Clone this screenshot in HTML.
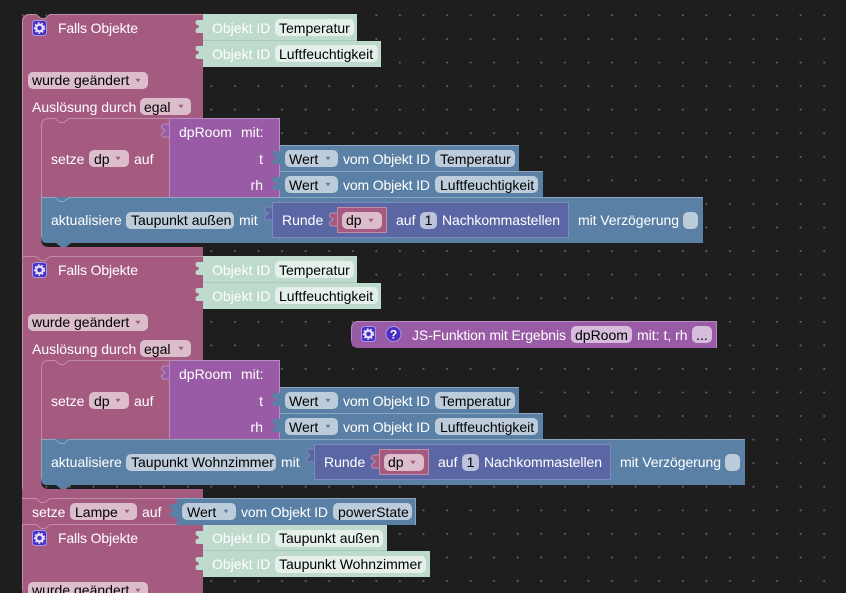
<!DOCTYPE html>
<html><head><meta charset="utf-8"><style>
html,body{margin:0;padding:0;background:#1e1e1e;width:846px;height:593px;overflow:hidden}
svg{display:block}
text{font-family:"Liberation Sans",Arial,sans-serif;font-size:14px;fill:#fff}
text.f{fill:#000}
.pk{fill:#a55b80}.bl{fill:#5b80a5}.mt{fill:#bedacd}.pu{fill:#995ba5}.in{fill:#5b67a5}
.ppk{fill:#dbbdcc}.pbl{fill:#bdccdb}.pmt{fill:#e5f0eb}.ppu{fill:#d6bddb}.pin{fill:#bdc2db}
.spk{stroke:#c08ca6;stroke-width:1;fill:none}.sbl{stroke:#8ca6c0;stroke-width:1;fill:none}
.smt{stroke:#a8c9ba;stroke-width:1;fill:none}.spu{stroke:#b88cc0;stroke-width:1;fill:none}.sin{stroke:#7f89bc;stroke-width:1;fill:none}
</style></head><body>
<svg width="846" height="593" viewBox="0 0 846 593" xmlns="http://www.w3.org/2000/svg">
<defs>
<pattern id="g" x="22" y="14.5" width="23.57" height="23.57" patternUnits="userSpaceOnUse"><circle cx="0.8" cy="0.8" r="1" fill="#666"/><circle cx="24.37" cy="0.8" r="1" fill="#666"/></pattern>
<path id="tab" d="M0.5,1 H-5 C-7,1 -7.5,2 -7.5,4 C-7.5,6 -4,6 -4,7.5 C-4,9 -7.5,9 -7.5,11 C-7.5,13 -7,14 -5,14 H0.5 z"/>
<path id="car" d="M-2.6,-1.8 L2.6,-1.8 L0,1.8 z"/>
<g id="ic"><rect x="0.5" y="0.5" width="14" height="15" rx="3" fill="#4a2fc4" stroke="#a596e6"/><circle cx="7.5" cy="8" r="3.4" fill="none" stroke="#e8e4fa" stroke-width="2.2"/><circle cx="7.5" cy="8" r="5" fill="none" stroke="#e8e4fa" stroke-width="1.4" stroke-dasharray="1.8 1.8"/></g>
</defs>
<rect width="846" height="593" fill="#1e1e1e"/>
<rect width="846" height="593" fill="url(#g)"/>

<!-- pink spine -->
<path class="pk" d="M30,14 H36 l5,4 h4 l5,-4 H203 V118 H41 V239 Q41,247 49,247 H203 V256 V489 H203 V498 V593 H22 V22 Q22,14 30,14 z M41,360 V481 Q41,489 49,489 H203 V360 z" fill-rule="evenodd"/>
<rect class="pk" x="38" y="116" width="135" height="14"/>
<rect class="pk" x="38" y="358" width="135" height="14"/>
<path class="spk" d="M22.5,590 V22 Q22.5,14.5 30,14.5 H36 l5,4 h4 l5,-4 H203"/>
<path class="spk" d="M22,256.5 H36 l5,4 h4 l5,-4 H203"/>

<!-- Block 1 mint -->
<use href="#tab" class="mt" x="203" y="19"/><use href="#tab" class="mt" x="203" y="45"/>
<rect class="mt" x="203" y="14" width="154" height="27"/><rect class="mt" x="203" y="41" width="178" height="26"/>
<path class="smt" d="M203,40.5 H357"/>
<use href="#ic" x="32" y="20"/><text x="58" y="33" textLength="80">Falls Objekte</text>
<text x="212" y="33">Objekt ID</text><rect class="pmt" x="275" y="19" width="79" height="17" rx="5"/><text class="f" x="279" y="33">Temperatur</text>
<text x="212" y="59">Objekt ID</text><rect class="pmt" x="275" y="45" width="103" height="17" rx="5"/><text class="f" x="279" y="59">Luftfeuchtigkeit</text>
<rect class="ppk" x="28" y="72" width="120" height="17" rx="5"/><text class="f" x="32" y="85">wurde geändert</text><use href="#car" class="pk" x="138" y="80.5"/>
<text x="32" y="112">Auslösung durch</text><rect class="ppk" x="140" y="98" width="51" height="17" rx="5"/><text class="f" x="144" y="112">egal</text><use href="#car" class="pk" x="181" y="106.5"/>

<!-- setze dp -->
<path class="pk" d="M49,118 H55 l5,4 h4 l5,-4 H170 V197 H41 V126 Q41,118 49,118 z"/>
<path class="spk" d="M41.5,197 V126 Q41.5,118.5 49,118.5 H55 l5,4 h4 l5,-4 H170"/>
<text x="51" y="164">setze</text><rect class="ppk" x="89" y="150" width="40" height="17" rx="5"/><text class="f" x="94" y="164">dp</text><use href="#car" class="pk" x="118" y="158.5"/><text x="134" y="164">auf</text>
<rect class="bl" x="280" y="145" width="239" height="26"/><rect class="bl" x="280" y="171" width="263" height="26"/>
<path class="sbl" d="M280,145.5 H519 M280,171.5 H543"/>
<use href="#tab" class="pu" x="169" y="123" stroke="#b88cc0"/>
<rect class="pu" x="169" y="118" width="111" height="79"/>
<path class="spu" d="M169.5,197 V118.5 H279.5 V197"/>
<text x="179" y="137">dpRoom</text><text x="241" y="137">mit:</text>
<text x="263" y="164" text-anchor="end">t</text><text x="263" y="190" text-anchor="end">rh</text>
<use href="#tab" class="bl" x="280" y="150"/><use href="#tab" class="bl" x="280" y="176"/>
<rect class="pbl" x="285" y="150" width="53" height="17" rx="5"/><text class="f" x="289" y="164">Wert</text><use href="#car" class="bl" x="328" y="158.5"/>
<text x="343" y="164" textLength="87">vom Objekt ID</text><rect class="pbl" x="435" y="150" width="80" height="17" rx="5"/><text class="f" x="440" y="164">Temperatur</text>
<rect class="pbl" x="285" y="176" width="53" height="17" rx="5"/><text class="f" x="289" y="190">Wert</text><use href="#car" class="bl" x="328" y="184.5"/>
<text x="343" y="190" textLength="87">vom Objekt ID</text><rect class="pbl" x="435" y="176" width="103" height="17" rx="5"/><text class="f" x="440" y="190">Luftfeuchtigkeit</text>

<!-- aktualisiere 1 -->
<path class="bl" d="M41,197 H703 V243 H71 l-5,4 h-5 l-5,-4 H47 Q41,243 41,237 z"/>
<path class="sbl" d="M41.5,237 V197.5 H55 l5,4 h4 l5,-4 H703"/>
<text x="51" y="225">aktualisiere</text><rect class="pbl" x="126" y="212" width="108" height="17" rx="5"/><text class="f" x="131" y="225">Taupunkt außen</text><text x="239" y="225">mit</text>
<use href="#tab" class="in" x="272" y="206" stroke="#7f89bc"/>
<rect class="in" x="272" y="202" width="297" height="36"/>
<rect class="sin" x="272.5" y="202.5" width="296" height="35"/>
<text x="282" y="225">Runde</text>
<use href="#tab" class="pk" x="337" y="212" stroke="#c08ca6"/>
<rect class="pk" x="337" y="207" width="50" height="26"/><rect class="spk" x="337.5" y="207.5" width="49" height="25"/>
<rect class="ppk" x="342" y="212" width="40" height="17" rx="5"/><text class="f" x="346" y="225">dp</text><use href="#car" class="pk" x="371" y="220.5"/>
<text x="396" y="225">auf</text><rect class="pin" x="420" y="212" width="17" height="17" rx="5"/><text class="f" x="424.6" y="225">1</text><text x="442" y="225" textLength="118">Nachkommastellen</text>
<text x="578" y="225" textLength="101">mit Verzögerung</text><rect class="pbl" x="683" y="212" width="15" height="17" rx="5"/>

<!-- Block 2 mint -->
<use href="#tab" class="mt" x="203" y="261"/><use href="#tab" class="mt" x="203" y="287"/>
<rect class="mt" x="203" y="256" width="154" height="27"/><rect class="mt" x="203" y="283" width="178" height="26"/>
<path class="smt" d="M203,282.5 H357"/>
<use href="#ic" x="32" y="262"/><text x="58" y="275" textLength="80">Falls Objekte</text>
<text x="212" y="275">Objekt ID</text><rect class="pmt" x="275" y="261" width="79" height="17" rx="5"/><text class="f" x="279" y="275">Temperatur</text>
<text x="212" y="301">Objekt ID</text><rect class="pmt" x="275" y="287" width="103" height="17" rx="5"/><text class="f" x="279" y="301">Luftfeuchtigkeit</text>
<rect class="ppk" x="28" y="314" width="120" height="17" rx="5"/><text class="f" x="32" y="327">wurde geändert</text><use href="#car" class="pk" x="138" y="322.5"/>
<text x="32" y="354">Auslösung durch</text><rect class="ppk" x="140" y="340" width="51" height="17" rx="5"/><text class="f" x="144" y="354">egal</text><use href="#car" class="pk" x="181" y="348.5"/>

<!-- setze dp 2 -->
<path class="pk" d="M49,360 H55 l5,4 h4 l5,-4 H170 V439 H41 V368 Q41,360 49,360 z"/>
<path class="spk" d="M41.5,439 V368 Q41.5,360.5 49,360.5 H55 l5,4 h4 l5,-4 H170"/>
<text x="51" y="406">setze</text><rect class="ppk" x="89" y="392" width="40" height="17" rx="5"/><text class="f" x="94" y="406">dp</text><use href="#car" class="pk" x="118" y="400.5"/><text x="134" y="406">auf</text>
<rect class="bl" x="280" y="387" width="239" height="26"/><rect class="bl" x="280" y="413" width="263" height="26"/>
<path class="sbl" d="M280,387.5 H519 M280,413.5 H543"/>
<use href="#tab" class="pu" x="169" y="365" stroke="#b88cc0"/>
<rect class="pu" x="169" y="360" width="111" height="79"/>
<path class="spu" d="M169.5,439 V360.5 H279.5 V439"/>
<text x="179" y="379">dpRoom</text><text x="241" y="379">mit:</text>
<text x="263" y="406" text-anchor="end">t</text><text x="263" y="432" text-anchor="end">rh</text>
<use href="#tab" class="bl" x="280" y="392"/><use href="#tab" class="bl" x="280" y="418"/>
<rect class="pbl" x="285" y="392" width="53" height="17" rx="5"/><text class="f" x="289" y="406">Wert</text><use href="#car" class="bl" x="328" y="400.5"/>
<text x="343" y="406" textLength="87">vom Objekt ID</text><rect class="pbl" x="435" y="392" width="80" height="17" rx="5"/><text class="f" x="440" y="406">Temperatur</text>
<rect class="pbl" x="285" y="418" width="53" height="17" rx="5"/><text class="f" x="289" y="432">Wert</text><use href="#car" class="bl" x="328" y="426.5"/>
<text x="343" y="432" textLength="87">vom Objekt ID</text><rect class="pbl" x="435" y="418" width="103" height="17" rx="5"/><text class="f" x="440" y="432">Luftfeuchtigkeit</text>

<!-- aktualisiere 2 -->
<path class="bl" d="M41,439 H745 V485 H71 l-5,4 h-5 l-5,-4 H47 Q41,485 41,479 z"/>
<path class="sbl" d="M41.5,479 V439.5 H55 l5,4 h4 l5,-4 H745"/>
<text x="51" y="467">aktualisiere</text><rect class="pbl" x="126" y="454" width="150" height="17" rx="5"/><text class="f" x="131" y="467">Taupunkt Wohnzimmer</text><text x="281" y="467">mit</text>
<use href="#tab" class="in" x="314" y="448" stroke="#7f89bc"/>
<rect class="in" x="314" y="444" width="297" height="36"/>
<rect class="sin" x="314.5" y="444.5" width="296" height="35"/>
<text x="324" y="467">Runde</text>
<use href="#tab" class="pk" x="379" y="454" stroke="#c08ca6"/>
<rect class="pk" x="379" y="449" width="50" height="26"/><rect class="spk" x="379.5" y="449.5" width="49" height="25"/>
<rect class="ppk" x="384" y="454" width="40" height="17" rx="5"/><text class="f" x="388" y="467">dp</text><use href="#car" class="pk" x="413" y="462.5"/>
<text x="438" y="467">auf</text><rect class="pin" x="462" y="454" width="17" height="17" rx="5"/><text class="f" x="466.6" y="467">1</text><text x="484" y="467" textLength="118">Nachkommastellen</text>
<text x="620" y="467" textLength="101">mit Verzögerung</text><rect class="pbl" x="725" y="454" width="15" height="17" rx="5"/>

<!-- setze Lampe -->
<path class="pk" d="M22,489 H203 V498 H177 V524 H22 z"/>
<path class="spk" d="M22,498.5 H36 l5,4 h4 l5,-4 H177"/>
<path class="spk" d="M22,524.5 H36 l5,4 h4 l5,-4 H203"/>
<text x="32" y="517">setze</text><rect class="ppk" x="70" y="503" width="67" height="17" rx="5"/><text class="f" x="75" y="517">Lampe</text><use href="#car" class="pk" x="127" y="511.5"/><text x="142" y="517">auf</text>
<use href="#tab" class="bl" x="177" y="503"/>
<rect class="bl" x="177" y="498" width="239" height="27"/>
<path class="sbl" d="M177,498.5 H415.5 V525"/>
<rect class="pbl" x="182" y="503" width="54" height="17" rx="5"/><text class="f" x="187" y="517">Wert</text><use href="#car" class="bl" x="226" y="511.5"/>
<text x="241" y="517" textLength="87">vom Objekt ID</text><rect class="pbl" x="333" y="503" width="79" height="17" rx="5"/><text class="f" x="338" y="517">powerState</text>

<!-- Block 3 -->
<rect class="mt" x="203" y="525" width="184" height="26"/><rect class="mt" x="203" y="551" width="227" height="26"/>
<use href="#tab" class="mt" x="203" y="530"/><use href="#tab" class="mt" x="203" y="556"/>
<path class="smt" d="M203,550.5 H387"/>
<use href="#ic" x="32" y="530"/><text x="58" y="543" textLength="80">Falls Objekte</text>
<text x="212" y="543">Objekt ID</text><rect class="pmt" x="275" y="530" width="108" height="17" rx="5"/><text class="f" x="279" y="543">Taupunkt außen</text>
<text x="212" y="569">Objekt ID</text><rect class="pmt" x="275" y="556" width="151" height="17" rx="5"/><text class="f" x="279" y="569">Taupunkt Wohnzimmer</text>
<rect class="ppk" x="28" y="582" width="120" height="17" rx="5"/><text class="f" x="32" y="595">wurde geändert</text><use href="#car" class="pk" x="138" y="590.5"/>

<!-- JS function -->
<path class="pu" d="M359,321 H717 V348 H359 Q351,348 351,340 V329 Q351,321 359,321 z"/>
<path class="spu" d="M351.5,340 V329 Q351.5,321.5 359,321.5 H716.5 V348"/>
<use href="#ic" x="361" y="326"/>
<circle cx="393.5" cy="334" r="7.5" fill="#4a2fc4" stroke="#a596e6"/>
<text x="393.5" y="338.5" text-anchor="middle" style="font-size:12px;font-weight:bold">?</text>
<text x="412" y="340" textLength="154">JS-Funktion mit Ergebnis</text>
<rect class="ppu" x="571" y="326" width="61" height="17" rx="5"/><text class="f" x="575" y="340">dpRoom</text>
<text x="637" y="340">mit: t, rh</text>
<rect class="ppu" x="692" y="326" width="20" height="17" rx="5"/><text class="f" x="702" y="340" text-anchor="middle">...</text>
</svg>
</body></html>
